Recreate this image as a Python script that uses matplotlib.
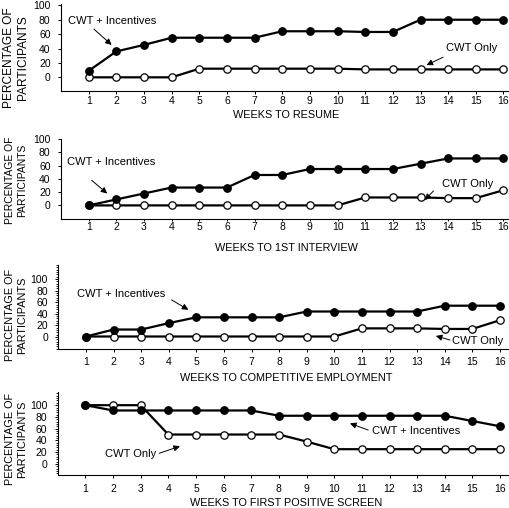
import numpy as np
import matplotlib
matplotlib.use("Agg")
import matplotlib.pyplot as plt
from matplotlib.ticker import MultipleLocator

plt.rcParams["font.family"] = ["Liberation Sans", "DejaVu Sans"]

weeks = np.arange(1, 17)

resume_inc = [9, 36, 45, 55, 55, 55, 55, 64, 64, 64, 63, 63, 80, 80, 80, 80]
resume_only = [0, 0, 0, 0, 12, 12, 12, 12, 12, 12, 11, 11, 11, 11, 11, 11]

interview_inc = [0, 9, 18, 27, 27, 27, 46, 46, 55, 55, 55, 55, 63, 71, 71, 71]
interview_only = [0, 0, 0, 0, 0, 0, 0, 0, 0, 0, 12, 12, 12, 11, 11, 23]

employ_inc = [1, 13, 13, 24, 34, 34, 34, 34, 44, 44, 44, 44, 44, 54, 54, 54]
employ_only = [1, 1, 1, 1, 1, 1, 1, 1, 1, 1, 15, 15, 15, 14, 14, 29]

screen_inc = [100, 91, 91, 91, 91, 91, 91, 82, 82, 82, 82, 82, 82, 82, 73, 64]
screen_only = [100, 100, 100, 50, 50, 50, 50, 50, 38, 25, 25, 25, 25, 25, 25, 25]

W, H = 510, 508
fig = plt.figure(figsize=(W / 100, H / 100), dpi=100)


def px_axes(left, right, top, bottom):
    return fig.add_axes([left / W, 1 - bottom / H, (right - left) / W, (bottom - top) / H])


# box = (left, right, top, bottom) in pixels of the 510x508 picture
panels = [
    dict(box=(61, 509, 3.9, 91), xlim=(0, 16.2), ylim=(-19, 102),
         inc=resume_inc, only=resume_only, xlabel="WEEKS TO RESUME",
         xl_y=115, yl_y=58, yl_size=8.6, minor=False, pad=1.1, tlen=2.5,
         notes=[("CWT + Incentives", (0.25, 78), (1.83, 45), (1.19, 67)),
                ("CWT Only", (13.92, 41), (13.22, 17), (13.82, 28))]),
    dict(box=(61, 509, 138.6, 219.3), xlim=(0, 16.2), ylim=(-21, 101),
         inc=interview_inc, only=interview_only, xlabel="WEEKS TO 1ST INTERVIEW",
         xl_y=248, yl_y=180, yl_size=7.4, minor=False, pad=0.6, tlen=1.5,
         notes=[("CWT + Incentives", (0.2, 65), (1.67, 18), (1.11, 38)),
                ("CWT Only", (13.77, 32), (13.16, 8), (13.47, 22))]),
    dict(box=(58.4, 509, 265, 349.3), xlim=(0, 16.33), ylim=(-21, 124),
         inc=employ_inc, only=employ_only, xlabel="WEEKS TO COMPETITIVE EMPLOYMENT",
         xl_y=378, yl_y=315, yl_size=7.8, minor=True, pad=2.8, tlen=2.5,
         notes=[("CWT + Incentives", (0.68, 74), (4.71, 47), (4.1, 64)),
                ("CWT Only", (14.25, -6), (13.68, 2), (14.19, -5))]),
    dict(box=(57.7, 509, 391.7, 475), xlim=(0, 16.32), ylim=(-19, 123),
         inc=screen_inc, only=screen_only, xlabel="WEEKS TO FIRST POSITIVE SCREEN",
         xl_y=502.5, yl_y=439, yl_size=7.8, minor=True, pad=3.7, tlen=2.5,
         notes=[("CWT Only", (1.71, 17), (4.42, 30), (3.67, 18)),
                ("CWT + Incentives", (11.38, 56), (10.57, 69), (11.23, 57.6))]),
]

for p in panels:
    ax = px_axes(*p["box"])
    ax.plot(weeks, p["only"], color="black", lw=1.6, marker="o", ms=5.3,
            mfc="white", mec="black", mew=0.9, zorder=3, clip_on=False)
    ax.plot(weeks, p["inc"], color="black", lw=1.6, marker="o", ms=5.3,
            mfc="black", mec="black", zorder=4, clip_on=False)
    ax.set_xlim(*p["xlim"])
    ax.set_ylim(*p["ylim"])
    ax.set_xticks(weeks)
    ax.set_yticks([0, 20, 40, 60, 80, 100])
    if p["minor"]:
        ax.yaxis.set_minor_locator(MultipleLocator(4))
        ax.tick_params(axis="y", which="minor", length=1.5, width=0.6)
    for side in ("top", "right"):
        ax.spines[side].set_visible(False)
    for side in ("left", "bottom"):
        ax.spines[side].set_linewidth(0.8)
    ax.tick_params(axis="y", which="major", length=2.5, width=0.7, labelsize=7.5, pad=5)
    ax.tick_params(axis="x", length=p["tlen"], width=0.7, labelsize=7.5, pad=p["pad"])
    fig.text(286 / W, 1 - p["xl_y"] / H, p["xlabel"], ha="center", va="center", fontsize=7.8)
    fig.text(16 / W, 1 - p["yl_y"] / H, "PERCENTAGE OF\nPARTICIPANTS", rotation=90,
             ha="center", va="center", fontsize=p["yl_size"], linespacing=1.3)
    for txt, pos, head, tail in p["notes"]:
        ax.text(pos[0], pos[1], txt, ha="left", va="center", fontsize=8)
        ax.annotate("", xy=head, xytext=tail,
                    arrowprops=dict(arrowstyle="-|>", color="black", lw=0.7,
                                    mutation_scale=9, shrinkA=0, shrinkB=0))

fig.savefig("out.png", dpi=100)
